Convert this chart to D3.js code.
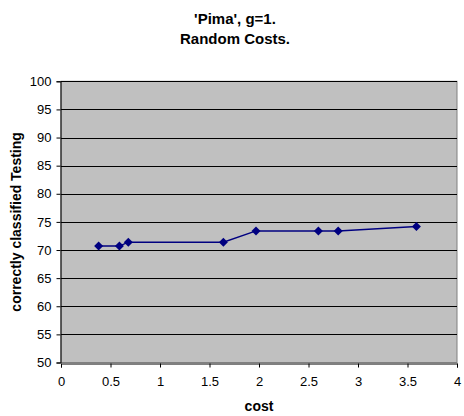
<!DOCTYPE html>
<html>
<head>
<meta charset="utf-8">
<script src="https://cdn.jsdelivr.net/npm/d3@7"></script>
<style>
  html, body { margin: 0; padding: 0; background: #fff; }
  svg { display: block; font-family: "Liberation Sans", Arial, sans-serif; }
</style>
</head>
<body>
<svg id="chart" width="464" height="416"></svg>
<script>
// Testing accuracy against cost for the Pima data set (g = 1, random costs)
const costs    = [0.38, 0.59, 0.68, 1.64, 1.97, 2.60, 2.80, 3.59];
const accuracy = [70.7, 70.7, 71.4, 71.4, 73.4, 73.4, 73.4, 74.2];
const xTicks   = [0, 0.5, 1, 1.5, 2, 2.5, 3, 3.5, 4];
const yTicks   = [50, 55, 60, 65, 70, 75, 80, 85, 90, 95, 100];
const titleLines = ["'Pima', g=1.", "Random Costs."];
const xTitle = "cost";
const yTitle = "correctly classified Testing";

const svg = d3.select("#chart");
const plot = { left: 61, right: 457, top: 81.3, bottom: 362.5 };

const x = d3.scaleLinear().domain([0, 4]).range([plot.left, plot.right]);
const y = d3.scaleLinear().domain([50, 100]).range([plot.bottom, plot.top]);

// plot background
svg.append("rect")
  .attr("x", plot.left).attr("y", plot.top)
  .attr("width", plot.right - plot.left).attr("height", plot.bottom - plot.top)
  .attr("fill", "#c0c0c0")
  .attr("stroke", "#808080").attr("stroke-width", 1);

// horizontal gridlines
svg.append("g")
  .selectAll("line")
  .data(yTicks.filter(v => v > 50))
  .join("line")
  .attr("x1", plot.left).attr("x2", plot.right)
  .attr("y1", d => Math.round(y(d)) + 0.5).attr("y2", d => Math.round(y(d)) + 0.5)
  .attr("stroke", "#000").attr("stroke-width", 1);

// y axis
const yAxis = svg.append("g")
  .attr("transform", `translate(${Math.round(plot.left) - 0.5},0)`)
  .call(d3.axisLeft(y).tickValues(yTicks).tickSize(4).tickPadding(5).tickFormat(d3.format("d")));
yAxis.select(".domain").attr("stroke", "#000");
yAxis.selectAll(".tick line").attr("stroke", "#000");
yAxis.selectAll("text").attr("font-size", 13).attr("fill", "#000")
  .attr("font-family", "'Liberation Sans', Arial, sans-serif");

// x axis
const xAxis = svg.append("g")
  .attr("transform", `translate(0,${Math.round(plot.bottom) + 0.5})`)
  .call(d3.axisBottom(x).tickValues(xTicks).tickSize(4).tickPadding(9).tickFormat(d => String(d)));
xAxis.select(".domain").attr("stroke", "#000");
xAxis.selectAll(".tick line").attr("stroke", "#000");
xAxis.selectAll("text").attr("font-size", 13).attr("fill", "#000")
  .attr("font-family", "'Liberation Sans', Arial, sans-serif");

// series line
const pts = costs.map((c, i) => [c, accuracy[i]]);
svg.append("path")
  .datum(pts)
  .attr("fill", "none")
  .attr("stroke", "#000080")
  .attr("stroke-width", 1.5)
  .attr("d", d3.line().x(d => x(d[0])).y(d => y(d[1])));

// diamond markers
svg.append("g")
  .selectAll("path")
  .data(pts)
  .join("path")
  .attr("transform", d => `translate(${x(d[0])},${y(d[1])})`)
  .attr("d", "M0,-4.5L4.5,0L0,4.5L-4.5,0Z")
  .attr("fill", "#000080");

// chart title
svg.append("text")
  .attr("x", 235).attr("text-anchor", "middle")
  .attr("font-size", 15).attr("font-weight", "bold")
  .selectAll("tspan")
  .data(titleLines)
  .join("tspan")
  .attr("x", 235)
  .attr("y", (d, i) => 24 + i * 19.5)
  .text(d => d);

// axis titles
svg.append("text")
  .attr("x", (plot.left + plot.right) / 2).attr("y", 411)
  .attr("text-anchor", "middle")
  .attr("font-size", 14).attr("font-weight", "bold")
  .text(xTitle);

svg.append("text")
  .attr("transform", `translate(21,${(plot.top + plot.bottom) / 2}) rotate(-90)`)
  .attr("text-anchor", "middle")
  .attr("font-size", 14).attr("font-weight", "bold")
  .text(yTitle);
</script>
</body>
</html>
